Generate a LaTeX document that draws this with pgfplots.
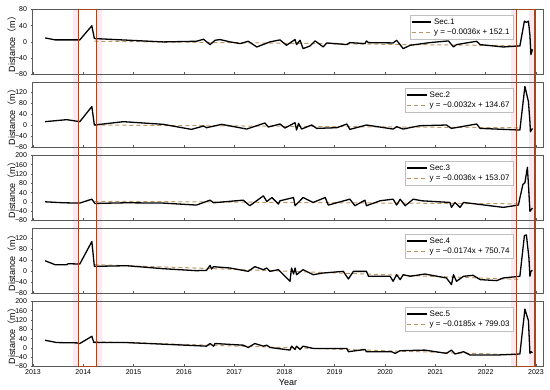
\documentclass[border=0pt]{standalone}
\usepackage{fontspec}
\setmainfont{Liberation Sans}
\newfontfamily\cjk{Noto Sans CJK SC}
\usepackage{pgfplots}
\pgfplotsset{compat=1.18}
\usepgfplotslibrary{groupplots}
\usetikzlibrary{backgrounds}
\definecolor{rectred}{RGB}{165,70,30}
\definecolor{trendc}{RGB}{190,150,100}
\definecolor{pinkhaze}{RGB}{253,232,242}
\definecolor{framec}{RGB}{90,90,90}
\begin{document}
\begin{tikzpicture}
\begin{groupplot}[
 group style={group size=1 by 5, vertical sep=8pt, xticklabels at=edge bottom},
 scale only axis, width=510pt, height=65pt,
 xmin=2013, xmax=2023.14,
 xtick={2013,...,2023}, minor x tick num=1,
 xtick pos=lower, ytick pos=left,
 ytick align=outside, xtick align=inside,
 major tick length=2.5pt, minor tick length=1.8pt,
 tick style={framec, line width=0.6pt},
 axis line style={framec, line width=1pt},
 ticklabel style={font=\fontsize{7}{8}\selectfont},
 /pgf/number format/assume math mode=true,
 xticklabel style={/pgf/number format/1000 sep=},
 ylabel={Distance{\cjk （}m{\cjk ）}},
 ylabel style={at={(axis description cs:-0.033,0.5)}, anchor=south, inner sep=0pt, font=\fontsize{9}{10}\selectfont},
 xlabel style={font=\fontsize{9}{10}\selectfont, yshift=3pt},
 legend style={at={(0.941,0.915)}, anchor=north east, draw=black!25, font=\fontsize{8}{9}\selectfont, inner sep=1.2pt, row sep=-1pt, cells={anchor=west}},
 legend image code/.code={\draw[#1] (0cm,0cm) -- (0.7cm,0cm);},
 every axis plot/.append style={line join=round},
]
% ---------------- Sec.1
\nextgroupplot[ymin=-80, ymax=80, ytick={-80,-40,0,40,80}, yticklabels={−80,−40,0,40,80}]
\addlegendimage{black, line width=1.3pt}
\addlegendentry{Sec.1}
\addplot[trendc, dash pattern=on 4pt off 3pt, line width=1pt] coordinates {(2014.22,1.9) (2022.68,-9.2)};
\addlegendentry{y = −0.0036x + 152.1}
\addplot[black, line width=1.3pt, forget plot] coordinates {
(2013.24,10.1) (2013.44,5.2) (2013.93,5.2) (2014.17,39.9) (2014.22,8.5) (2015.59,0.2)
(2016.25,1.8) (2016.39,6.8) (2016.52,-6.4) (2016.62,4.3) (2016.72,6.0) (2016.92,0.2)
(2017.12,-3.9) (2017.28,1.8) (2017.45,-12.2) (2017.71,0.2) (2017.91,5.2) (2018.04,-8.1)
(2018.21,6.0) (2018.24,-6.4) (2018.31,4.3) (2018.37,-16.3) (2018.51,-9.7) (2018.61,2.7)
(2018.77,-12.2) (2018.84,-2.3) (2019.24,-6.4) (2019.30,-1.5) (2019.60,-3.9) (2019.63,2.7)
(2019.67,-1.5) (2020.16,-2.3) (2020.23,4.3) (2020.36,-16.3) (2020.50,-8.1) (2020.89,-1.5)
(2021.26,2.7) (2021.36,-12.2) (2021.42,-6.4) (2021.82,1.8) (2021.89,-6.4) (2022.35,-12.2)
(2022.68,-9.7) (2022.77,51.5) (2022.81,48.2) (2022.85,51.5) (2022.88,16.7) (2022.90,-31.2)
(2022.93,-18)};
\coordinate (a1) at (axis cs:2013.9,80);
\coordinate (b1) at (axis cs:2014.27,80);
\coordinate (c1) at (axis cs:2022.62,80);
\coordinate (d1) at (axis cs:2022.98,80);
\coordinate (a0) at (axis cs:2013.79,80);
\coordinate (b0) at (axis cs:2014.38,80);
\coordinate (c0) at (axis cs:2022.51,80);
\coordinate (d0) at (axis cs:2022.87,80);
% ---------------- Sec.2
\nextgroupplot[ymin=-80, ymax=155, ytick={-80,-40,0,40,80,120}, yticklabels={−80,−40,0,40,80,120}]
\addlegendimage{black, line width=1.3pt}
\addlegendentry{Sec.2}
\addplot[trendc, dash pattern=on 4pt off 3pt, line width=1pt] coordinates {(2014.22,1.2) (2022.68,-8.7)};
\addlegendentry{y = −0.0032x + 134.67}
\addplot[black, line width=1.3pt, forget plot] coordinates {
(2013.24,13.4) (2013.67,20.7) (2013.93,13.4) (2014.17,68) (2014.22,1.3) (2014.80,13.4)
(2015.59,3.7) (2016.15,-14.5) (2016.39,-2.4) (2016.45,-8.4) (2016.75,3.7) (2017.25,-13.3)
(2017.61,8.6) (2017.68,-6) (2017.91,4.9) (2018.01,-9.6) (2018.21,9.8) (2018.24,-16.9)
(2018.28,7.3) (2018.34,-13.3) (2018.54,1.3) (2018.64,-10.9) (2019.04,-8.4) (2019.24,4.9)
(2019.30,-14.5) (2019.63,1.3) (2020.16,-13.3) (2020.23,-4.8) (2020.36,-13.3) (2020.69,-1.2)
(2021.22,1.3) (2021.32,-10.9) (2021.82,4.9) (2021.89,-10.9) (2022.68,-16.9) (2022.78,140.8)
(2022.85,86.2) (2022.88,13.4) (2022.89,-23) (2022.93,-10.9)};
% ---------------- Sec.3
\nextgroupplot[ymin=-80, ymax=200, ytick={-80,-40,...,200}, yticklabels={−80,−40,0,40,80,120,160,200}]
\addlegendimage{black, line width=1.3pt}
\addlegendentry{Sec.3}
\addplot[trendc, dash pattern=on 4pt off 3pt, line width=1pt] coordinates {(2014.22,2.9) (2022.68,-8.2)};
\addlegendentry{y = −0.0036x + 153.07}
\addplot[black, line width=1.3pt, forget plot] coordinates {
(2013.24,0.6) (2013.60,-3.6) (2013.93,-5) (2014.17,11.9) (2014.23,-6.5) (2014.86,-3.6)
(2015.59,-5) (2016.25,-13.5) (2016.52,7.7) (2016.59,-3.6) (2017.18,7.7) (2017.31,-16.3)
(2017.58,26) (2017.65,2) (2017.75,19) (2017.88,-9.3) (2017.91,4.9) (2018.18,19)
(2018.21,-16.3) (2018.37,19) (2018.57,-2.2) (2018.81,19) (2018.87,-13.5) (2019.30,11.9)
(2019.40,-16.3) (2019.60,7.7) (2019.63,-16.3) (2019.90,4.9) (2020.16,11.9) (2020.23,-13.5)
(2020.30,11.9) (2020.40,-16.3) (2020.56,11.9) (2020.73,4.9) (2021.29,-2.2) (2021.32,-23.4)
(2021.39,-2.2) (2021.49,-23.4) (2021.56,-2.2) (2022.35,-23.4) (2022.65,-13.5) (2022.74,75.5)
(2022.78,82.6) (2022.83,149) (2022.85,75.5) (2022.88,-40.4) (2022.93,-26.2)};
% ---------------- Sec.4
\nextgroupplot[ymin=-80, ymax=155, ytick={-80,-40,0,40,80,120}, yticklabels={−80,−40,0,40,80,120}]
\addlegendimage{black, line width=1.3pt}
\addlegendentry{Sec.4}
\addplot[trendc, dash pattern=on 4pt off 3pt, line width=1pt] coordinates {(2014.22,24.8) (2022.68,-28.9)};
\addlegendentry{y = −0.0174x + 750.74}
\addplot[black, line width=1.3pt, forget plot] coordinates {
(2013.24,38.4) (2013.44,24.1) (2013.67,24.1) (2013.70,27.7) (2013.93,26.5) (2014.17,107.9)
(2014.22,18.1) (2014.86,20.5) (2015.59,9.7) (2016.25,2.5) (2016.45,3.7) (2016.52,21.7)
(2016.55,8.5) (2016.59,17) (2016.92,12.1) (2017.28,0.1) (2017.41,17) (2017.58,6.1)
(2017.65,12.1) (2017.71,0.1) (2017.88,6.1) (2018.11,-35.8) (2018.14,12.1) (2018.18,-9.5)
(2018.21,12.1) (2018.24,-11.9) (2018.37,6.1) (2018.57,-11.9) (2018.77,-5.9) (2019.17,0.1)
(2019.27,-27.4) (2019.37,0.1) (2019.63,0.1) (2019.67,-17.8) (2020.10,-17.8) (2020.16,-35.8)
(2020.23,-11.9) (2020.30,-29.8) (2020.36,-11.9) (2020.50,-17.8) (2020.79,-9.5) (2021.22,-23.8)
(2021.32,-47.8) (2021.36,-11.9) (2021.42,-35.8) (2021.56,-17.8) (2021.75,-14.2) (2021.89,-29.8)
(2022.22,-33.4) (2022.35,-23.8) (2022.68,-17.8) (2022.77,129.4) (2022.81,131.8) (2022.86,48)
(2022.88,-17.8) (2022.90,0.1) (2022.93,3.7)};
% ---------------- Sec.5
\nextgroupplot[ymin=-80, ymax=200, ytick={-80,-40,...,200}, yticklabels={−80,−40,0,40,80,120,160,200}, xlabel={Year}]
\addlegendimage{black, line width=1.3pt}
\addlegendentry{Sec.5}
\addplot[trendc, dash pattern=on 4pt off 3pt, line width=1pt] coordinates {(2014.22,27.2) (2022.68,-29.9)};
\addlegendentry{y = −0.0185x + 799.03}
\addplot[black, line width=1.3pt, forget plot] coordinates {
(2013.24,33.1) (2013.47,23.2) (2013.87,21.8) (2013.93,19) (2014.17,50.1) (2014.21,23.2)
(2014.86,23.2) (2015.59,16.2) (2016.45,7.7) (2016.52,19) (2016.59,7.7) (2016.62,19)
(2017.18,11.9) (2017.28,2) (2017.41,19) (2017.58,7.7) (2017.65,11.9) (2017.71,2)
(2018.11,-9.3) (2018.14,7.7) (2018.21,-6.5) (2018.24,7.7) (2018.31,-6.5) (2018.37,7.7)
(2018.57,-2.2) (2019.24,-2.2) (2019.27,-16.3) (2019.60,-6.5) (2019.63,-16.3) (2020.13,-16.3)
(2020.20,-23.4) (2020.30,-12.1) (2020.79,-9.3) (2021.22,-23.4) (2021.32,-9.3) (2021.39,-26.2)
(2021.56,-16.3) (2021.69,-30.5) (2022.02,-30.5) (2022.22,-30.5) (2022.68,-26.2) (2022.78,167.3)
(2022.85,117.9) (2022.88,-23.4) (2022.90,-16.3) (2022.93,-20.6)};
\coordinate (a5) at (axis cs:2013.9,-80);
\coordinate (b5) at (axis cs:2014.27,-80);
\coordinate (c5) at (axis cs:2022.62,-80);
\coordinate (d5) at (axis cs:2022.98,-80);
\coordinate (a4) at (axis cs:2013.79,-80);
\coordinate (b4) at (axis cs:2014.38,-80);
\coordinate (c4) at (axis cs:2022.51,-80);
\coordinate (d4) at (axis cs:2022.87,-80);
\end{groupplot}
\begin{pgfonlayer}{background}
\fill[pinkhaze] (a0) rectangle (a5);
\fill[pinkhaze] (b1) rectangle (b4);
\fill[pinkhaze] (c0) rectangle (c5);
\fill[pinkhaze] (d0) rectangle (d5);
\end{pgfonlayer}
\draw[rectred, line width=1.1pt] (a1) rectangle (b5);
\draw[rectred, line width=1.1pt] (c1) rectangle (d5);
\pgfresetboundingbox
\path[use as bounding box] ([xshift=-33pt,yshift=9.5pt]group c1r1.north west) rectangle ([xshift=7pt,yshift=-23pt]group c1r5.south east);
\end{tikzpicture}
\end{document}
